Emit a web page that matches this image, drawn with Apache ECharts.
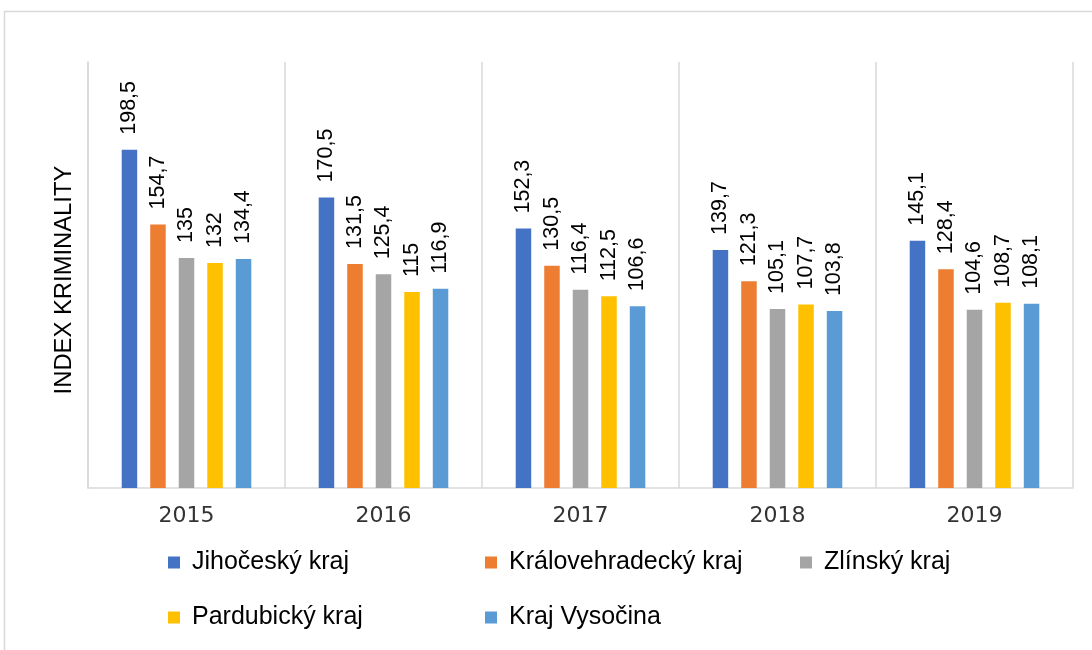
<!DOCTYPE html>
<html>
<head>
<meta charset="utf-8">
<script src="https://cdn.jsdelivr.net/npm/echarts@6/dist/echarts.min.js"></script>
<style>
html,body{margin:0;padding:0;background:#fff;}
#chart{width:1092px;height:650px;}
</style>
</head>
<body>
<div id="chart"></div>
<script>
var years = ['2015', '2016', '2017', '2018', '2019'];
var seriesNames = ['Jihočeský kraj', 'Královehradecký kraj', 'Zlínský kraj', 'Pardubický kraj', 'Kraj Vysočina'];
var jihocesky = [198.5, 170.5, 152.3, 139.7, 145.1];
var kralovehradecky = [154.7, 131.5, 130.5, 121.3, 128.4];
var zlinsky = [135, 125.4, 116.4, 105.1, 104.6];
var pardubicky = [132, 115, 112.5, 107.7, 108.7];
var vysocina = [134.4, 116.9, 106.6, 103.8, 108.1];
var colors = ['#4472C4', '#ED7D31', '#A5A5A5', '#FFC000', '#5B9BD5'];
var allData = [jihocesky, kralovehradecky, zlinsky, pardubicky, vysocina];

var font = 'Liberation Sans';
var chart = echarts.init(document.getElementById('chart'));

var legendPos = [
  {left: 168, top: 550},
  {left: 485, top: 550},
  {left: 800, top: 550},
  {left: 168, top: 605},
  {left: 485, top: 605}
];

var legends = seriesNames.map(function (n, i) {
  return {
    data: [n],
    left: legendPos[i].left,
    top: legendPos[i].top,
    padding: 0,
    icon: 'rect',
    itemWidth: 12,
    itemHeight: 12,
    itemGap: 5,
    textStyle: {fontFamily: font, fontSize: 25, color: '#000', padding: [0, 0, 0, 7]}
  };
});

var series = seriesNames.map(function (n, i) {
  return {
    name: n,
    type: 'bar',
    data: allData[i],
    barWidth: 15.5,
    barGap: '84%',
    itemStyle: {color: colors[i]},
    label: {
      show: true,
      position: 'top',
      rotate: 90,
      align: 'left',
      verticalAlign: 'middle',
      distance: 15,
      fontFamily: font,
      fontSize: 21.5,
      color: '#000',
      formatter: function (p) { return String(p.value).replace('.', ','); }
    }
  };
});

chart.setOption({
  animation: false,
  color: colors,
  graphic: [{
    type: 'rect',
    shape: {x: 4.5, y: 11.5, width: 1200, height: 800},
    style: {fill: 'none', stroke: '#d9d9d9', lineWidth: 1.5},
    silent: true
  }],
  legend: legends,
  grid: {left: 88, right: 19, top: 62, bottom: 162, containLabel: false},
  xAxis: {
    type: 'category',
    data: years,
    axisLine: {show: true, lineStyle: {color: '#d9d9d9', width: 1.5}},
    axisTick: {show: false},
    splitLine: {show: true, lineStyle: {color: '#d9d9d9', width: 1.5}},
    axisLabel: {fontFamily: 'DejaVu Sans', fontSize: 22, color: '#333', margin: 17}
  },
  yAxis: {
    type: 'value',
    min: 0,
    max: 250,
    interval: 50,
    name: 'INDEX KRIMINALITY',
    nameLocation: 'middle',
    nameRotate: 90,
    nameGap: 12,
    nameTextStyle: {fontFamily: font, fontSize: 23.8, color: '#000', padding: [0, 10, 0, 0]},
    axisLine: {show: true, lineStyle: {color: '#d9d9d9', width: 1.5}},
    axisTick: {show: false},
    axisLabel: {show: false},
    splitLine: {show: false}
  },
  series: series
});
</script>
</body>
</html>
